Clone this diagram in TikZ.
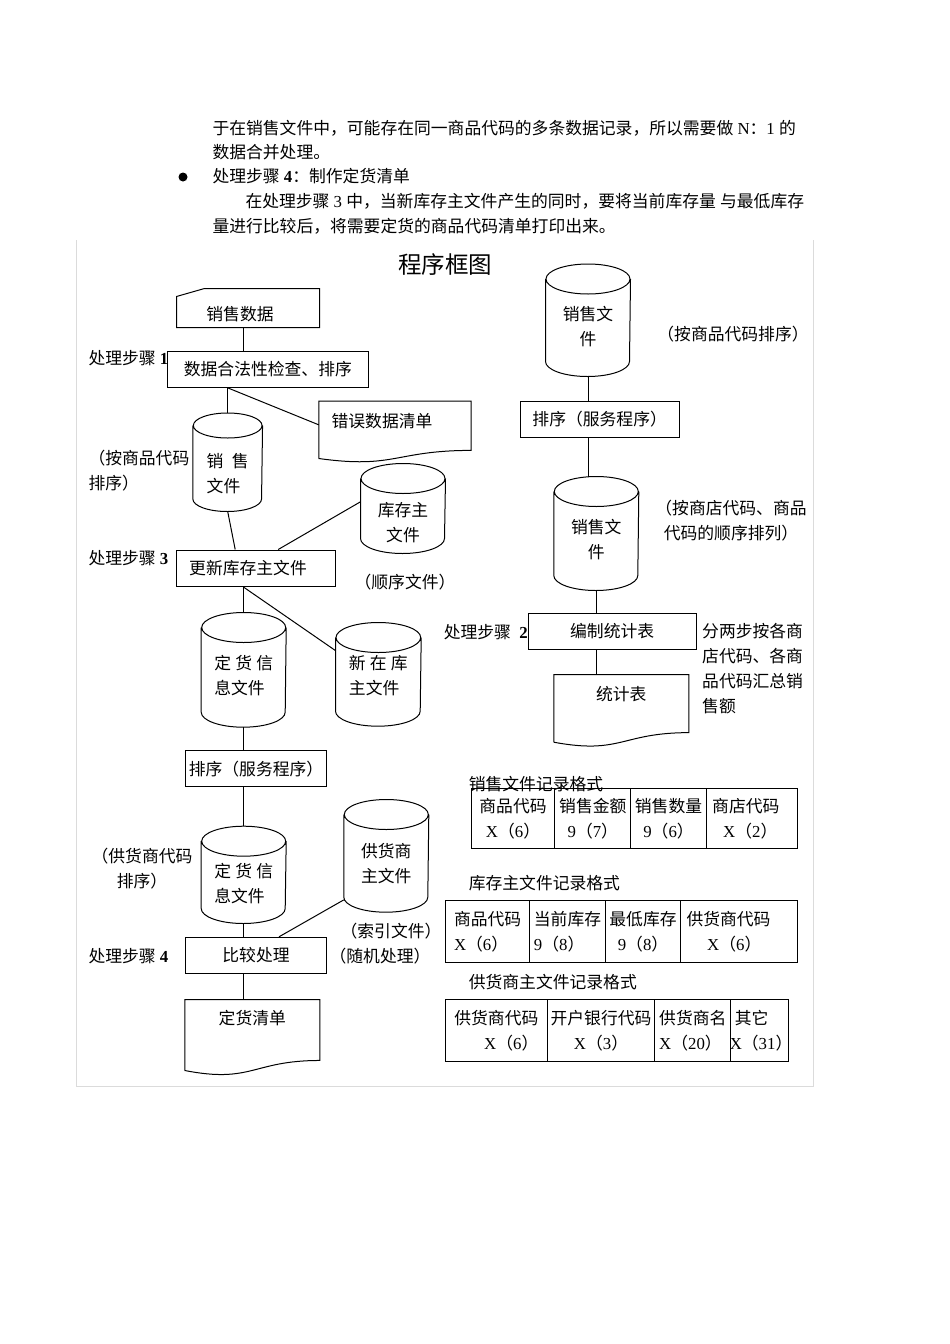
\documentclass[tikz,border=0pt]{standalone}
\usepackage{fontspec}
\setmainfont{Liberation Serif}
\newfontfamily\cjkfont{Noto Sans CJK SC}
% CJK characters switch to the CJK family, everything else stays serif
\XeTeXinterchartokenstate=1
\chardef\cjkclass=8
\newcount\cjkcount
\newcommand\setcjkrange[2]{\cjkcount=#1 \loop\XeTeXcharclass\cjkcount=\cjkclass\ifnum\cjkcount<#2 \advance\cjkcount by 1 \repeat}
\setcjkrange{"3000}{"303F}
\setcjkrange{"4E00}{"9FFF}
\setcjkrange{"FF00}{"FFEF}
\XeTeXinterchartoks 0 \cjkclass={\cjkfont}
\XeTeXinterchartoks 4095 \cjkclass={\cjkfont}
\XeTeXinterchartoks \cjkclass 0={\rmfamily}
\XeTeXinterchartoks \cjkclass 4095={\rmfamily}
\usetikzlibrary{calc}
\begin{document}
\begin{tikzpicture}[x=1pt, y=-1pt, line width=1pt,
  every node/.style={font=\fontsize{16.8}{25}\selectfont},
  box/.style={draw, inner sep=0, minimum height=36pt},
  store/.style={inner sep=0, minimum width=84pt},
  doc/.style={inner sep=0, minimum width=134pt},
  cell/.style={draw, inner sep=0, align=center, anchor=north west},
  note/.style={align=left, inner sep=0, anchor=west},
  frame/.style={draw=black!14, line width=1pt}]
  \useasboundingbox (0,0) rectangle (950,1344);
  \draw[frame] (76,240) -- (76,1086) -- (813,1086) -- (813,240);
  % Text above the chart
  \node[note] (line1) at (212,128) {于在销售文件中，可能存在同一商品代码的多条数据记录，所以需要做 N：1 的};
  \node[note] (line2) at (212,152) {数据合并处理。};
  \node[circle, fill, inner sep=0, minimum size=9pt] (bullet) at (183,177) {};
  \node[note] (line3) at (212,176) {处理步骤 \textbf{4}：制作定货清单};
  \node[note] (line4) at (245,201) {在处理步骤 3 中，当新库存主文件产生的同时，要将当前库存量 与最低库存};
  \node[note] (line5) at (212,226) {量进行比较后，将需要定货的商品代码清单打印出来。};
  \node[font=\fontsize{23.5}{28}\selectfont] (title) at (445,265) {程序框图};
  % Nodes
  \node[inner xsep=29.4pt, inner ysep=0, text width=83.2pt, text height=27pt, text depth=3pt, minimum height=38pt] (salesdata) at (248,308) {销售数据};
  \node[box, minimum width=200.3pt] (check) at (267.85,369.35) {数据合法性检查、排序};
  \node[doc, minimum width=151.4pt, minimum height=56.3pt, label={[anchor=center, xshift=-13pt, yshift=-20pt]90:错误数据清单}] (errlist) at (395,429.85) {};
  \node[store, minimum width=68.7pt, minimum height=97.5pt, label={[align=left, yshift=-11pt]center:销\ \ 售\\文件}] (salesA) at (227.7,462.25) {};
  \node[store, minimum height=89pt, label={[align=center, yshift=-14.4pt]center:库存主\\文件}] (stock) at (403,508.5) {};
  \node[box, inner xsep=12.5pt, text width=134pt, minimum height=36.7pt] (update) at (256.2,568.35) {更新库存主文件};
  \node[store, minimum height=113.7pt, label={[align=left, yshift=-5.8pt]center:定 货 信\\息文件}] (order1) at (243.7,669.85) {};
  \node[store, minimum width=84.7pt, minimum height=102.7pt, label={[align=left, yshift=-1.3pt]center:新 在 库\\主文件}] (newstock) at (378.35,674.35) {};
  \node[box, minimum width=141.4pt] (sort1) at (256,768.7) {排序（服务程序）};
  \node[store, minimum height=96.3pt, label={[align=left, yshift=-8.5pt]center:定 货 信\\息文件}] (order2) at (243.7,874.85) {};
  \node[store, minimum height=111.7pt, label={[align=center, yshift=-7.5pt]center:供货商\\主文件}] (supplier) at (386.3,855.85) {};
  \node[box, minimum width=141.4pt] (compare) at (256,955.3) {比较处理};
  \node[doc, minimum height=70pt, label={[anchor=center, yshift=-18.3pt]90:定货清单}] (orderlist) at (252.3,1035) {};
  \node[store, minimum height=111.5pt, label={[align=center, yshift=-6.7pt]center:销售文\\件}] (salesR1) at (588,320.25) {};
  \node[box, minimum width=159.3pt] (sort2) at (599.65,419.5) {排序（服务程序）};
  \node[store, minimum height=113pt, label={[align=center, yshift=-5.7pt]center:销售文\\件}] (salesR2) at (596.3,533.5) {};
  \node[box, minimum width=167.7pt] (report) at (612.15,631.3) {编制统计表};
  \node[doc, minimum height=66.7pt, label={[anchor=center, yshift=-20pt]90:统计表}] (stats) at (621.3,708.35) {};
  % Shapes
  \draw ($(salesdata.north west)+(0,8)$) -- ($(salesdata.north west)+(28,0)$) -- (salesdata.north east) -- (salesdata.south east) -- (salesdata.south west) -- cycle;
  \foreach \n/\r/\e in {salesA/34.35/12.5, stock/42/15, order1/42/15, newstock/42.35/15, order2/42/15, supplier/42/15, salesR1/42/15, salesR2/42/15}
    \draw ([yshift=-\e pt]\n.north) ellipse [x radius=\r pt, y radius=\e pt]
      ([yshift=-\e pt]\n.north west) -- ([yshift=\e pt]\n.south west)
      arc [start angle=180, end angle=360, x radius=\r pt, y radius=\e pt]
      -- ([yshift=-\e pt]\n.north east);
  \foreach \n in {errlist, stats, orderlist}
    \draw (\n.south west) -- (\n.north west) -- (\n.north east) -- ($(\n.north east)!0.8587!(\n.south east)$)
      .. controls ($(\n.north)!0.8587!(\n.south)$) and ($(\n.north)!1.185!(\n.south)$) .. (\n.south west);
  % Labels
  \node[note] (step1) at (88,358) {处理步骤 \textbf{1}};
  \node[note] (step3) at (88,558) {处理步骤 \textbf{3}};
  \node[note] (step4) at (88,956) {处理步骤 \textbf{4}};
  \node[note] (step2) at (443.3,631.7) {处理步骤\ \ \textbf{2}};
  \node[note] (noteA) at (88,470.3) {（按商品代码\\排序）};
  \node[note, anchor=center] (noteStock) at (405,581.7) {（顺序文件）};
  \node[note, anchor=center] (noteR1) at (733,334) {（按商品代码排序）};
  \node[note, anchor=center, align=center] (noteR2) at (731,520.8) {（按商店代码、商品\\代码的顺序排列）};
  \node[note] (noteReport) at (701.7,669) {分两步按各商\\店代码、各商\\品代码汇总销\\售额};
  \node[note, anchor=center, align=center] (noteB) at (142,868.3) {（供货商代码\\排序）};
  \node[note, anchor=center] (noteIdx) at (391,930.7) {（索引文件）};
  \node[note, anchor=center] (noteRand) at (380,956) {（随机处理）};
  % Connection
  \draw ($(salesdata.south)+(-5,0)$) -- ($(salesdata.south |- check.north)+(-5,0)$);
  \draw (salesA.north |- check.south) -- (salesA.north);
  \draw (salesA.north |- check.south) -- ($(errlist.west)+(0,-5)$);
  \draw (salesA.south) -- ($(update.north)+(-21,0)$);
  \draw (stock.171) -- ($(update.north)+(22,0)$);
  \draw (order1.north |- update.south) -- (order1.north);
  \draw (order1.north |- update.south) -- (newstock.151);
  \draw (order1.south) -- (order1.south |- sort1.north);
  \draw (order2.north |- sort1.south) -- (order2.north);
  \draw (order2.south) -- (order2.south |- compare.north);
  \draw (supplier.226) -- ($(compare.north)+(23,0)$);
  \draw (order2.south |- compare.south) -- (order2.south |- orderlist.north);
  \draw (salesR1.south) -- (salesR1.south |- sort2.north);
  \draw (salesR1.south |- sort2.south) -- (salesR1.south |- salesR2.north);
  \draw (salesR2.south) -- (salesR2.south |- report.north);
  \draw (salesR2.south |- report.south) -- (salesR2.south |- stats.north);
  % Record formats
  \node[note] (fmt1) at (468.3,784) {销售文件记录格式};
  \node[cell, minimum width=83.6pt, minimum height=60pt] (t1a) at (470.7,788.3) {商品代码\\X（6）};
  \node[cell, minimum width=76pt, minimum height=60pt] (t1b) at (554.3,788.3) {销售金额\\9（7）};
  \node[cell, minimum width=75.4pt, minimum height=60pt] (t1c) at (630.3,788.3) {销售数量\\9（6）};
  \node[cell, align=left, text width=79pt, minimum width=91pt, minimum height=60pt] (t1d) at (705.7,788.3) {商店代码\\\hspace*{11pt}X（2）};
  \node[note] (fmt2) at (468.3,882.7) {库存主文件记录格式};
  \node[cell, align=left, minimum width=84.3pt, minimum height=61.7pt] (t2a) at (445,900) {商品代码\\X（6）};
  \node[cell, align=left, minimum width=75.4pt, minimum height=61.7pt] (t2b) at (529.3,900) {当前库存\\9（8）};
  \node[cell, minimum width=75.6pt, minimum height=61.7pt] (t2c) at (604.7,900) {最低库存\\9（8）};
  \node[cell, align=left, text width=105pt, minimum width=116.4pt, minimum height=61.7pt] (t2d) at (680.3,900) {供货商代码\\\hspace*{20.7pt}X（6）};
  \node[note] (fmt3) at (468.3,981.7) {供货商主文件记录格式};
  \node[cell, align=right, minimum width=101.7pt, minimum height=61.7pt] (t3a) at (445,999.3) {供货商代码\\X（6）};
  \node[cell, minimum width=107.6pt, minimum height=61.7pt] (t3b) at (546.7,999.3) {开户银行代码\\X（3）};
  \node[cell, align=left, minimum width=76pt, minimum height=61.7pt] (t3c) at (654.3,999.3) {供货商名\\X（20）};
  \node[cell, align=left, text width=49.4pt, minimum width=57.4pt, minimum height=61.7pt] (t3d) at (730.3,999.3) {其它\\\hspace*{-5pt}X（31）};
\end{tikzpicture}
\end{document}
